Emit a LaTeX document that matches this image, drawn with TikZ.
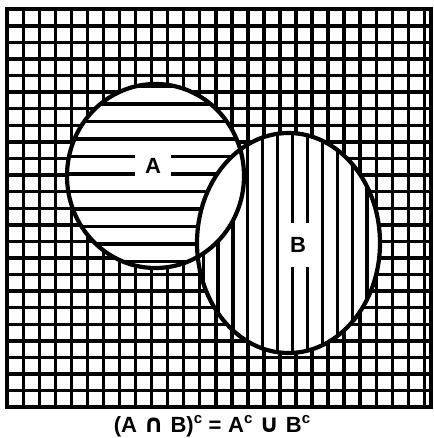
\documentclass[tikz,border=0pt]{standalone}
\usepackage{fontspec}
\setmainfont{Liberation Sans}
\newfontfamily\symfont{DejaVu Sans}
\newcommand{\supc}{\raisebox{0.42em}{\fontsize{15}{15}\selectfont c}}
\newcommand{\capsym}[1]{{\symfont\bfseries\fontsize{25}{25}\selectfont #1}}
\begin{document}
\begin{tikzpicture}[x=1pt,y=-1pt,
  gridline/.style={line width=3.4pt},
  hatchline/.style={line width=3.2pt},
  outline/.style={line width=4.2pt},
  lbl/.style={font=\bfseries\fontsize{22}{22}\selectfont, fill=white, inner sep=0pt},
  captext/.style={font=\bfseries\fontsize{22}{22}\selectfont, inner sep=0pt}]
\useasboundingbox[fill=white] (0,0) rectangle (433,438);
\def\ellA{(155.5,176) ellipse [x radius=88.5, y radius=92]}
\def\ellB{(288.5,243) ellipse [x radius=91.5, y radius=110]}
% grid
\foreach \k in {0,...,26} \draw[gridline] ({7.3+16.04*\k},9) -- ({7.3+16.04*\k},407);
\foreach \k in {0,...,24} \draw[gridline] (7,{9.3+16.58*\k}) -- (431,{9.3+16.58*\k});
\draw[line width=4.5pt] (7,9) rectangle (431,407);
% white circles
\fill[white] \ellA;
\fill[white] \ellB;
% hatch A
\begin{scope}
  \clip \ellA;
  \foreach \k in {0,...,10} \draw[hatchline] (60,{86.5+17.5*\k}) -- (250,{86.5+17.5*\k});
\end{scope}
% hatch B
\begin{scope}
  \clip \ellB;
  \foreach \k in {-1,...,11} \draw[hatchline] ({218+14.9*\k},120) -- ({218+14.9*\k},360);
\end{scope}
% lens white
\begin{scope}
  \clip \ellA;
  \fill[white] \ellB;
\end{scope}
% labels
\node[lbl, minimum width=36pt, minimum height=30pt] (labA) at (153,166) {A};
\node[lbl, minimum width=26pt, minimum height=44pt] (labB) at (298,245) {B};
% outlines
\draw[outline] \ellA;
\draw[outline] \ellB;
% caption
\node[captext] (cap) at (212,426) {(A\hspace{0.3em}\capsym{∩}\hspace{0.3em}B)\supc{}\hspace{0.3em}=\hspace{0.3em}A\supc{}\hspace{0.3em}\capsym{∪}\hspace{0.3em}B\supc};
\end{tikzpicture}
\end{document}
